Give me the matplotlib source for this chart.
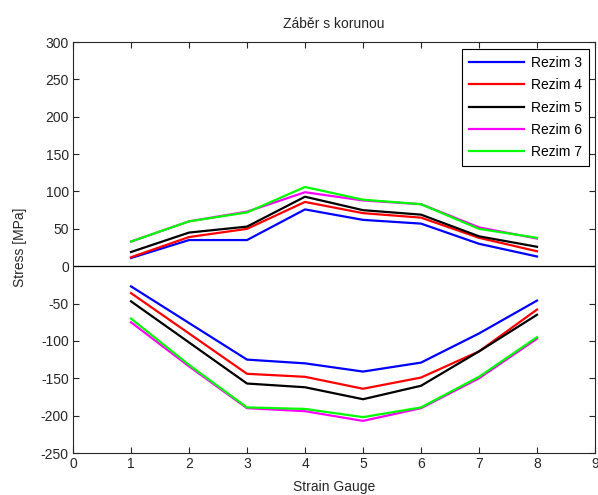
import matplotlib
matplotlib.use("Agg")
import matplotlib.pyplot as plt

# Strain gauge positions
gauges = [1, 2, 3, 4, 5, 6, 7, 8]

# Tensile (upper) stress per regime [MPa]
upper = {
    "Rezim 3": [11, 35, 35, 76, 62, 57, 30, 13],
    "Rezim 4": [12, 39, 50, 86, 71, 65, 38, 20],
    "Rezim 5": [19, 45, 53, 93, 75, 69, 40, 26],
    "Rezim 6": [33, 60, 73, 99, 88, 83, 52, 37],
    "Rezim 7": [33, 60, 72, 106, 89, 83, 50, 38],
}

# Compressive (lower) stress per regime [MPa]
lower = {
    "Rezim 3": [-27, -76, -125, -130, -141, -129, -90, -46],
    "Rezim 4": [-36, -90, -144, -148, -164, -149, -114, -58],
    "Rezim 5": [-47, -102, -157, -162, -178, -160, -114, -65],
    "Rezim 6": [-75, -134, -190, -194, -207, -190, -150, -97],
    "Rezim 7": [-70, -132, -189, -191, -202, -189, -148, -95],
}

colors = {
    "Rezim 3": "#0000ff",
    "Rezim 4": "#ff0000",
    "Rezim 5": "#000000",
    "Rezim 6": "#ff00ff",
    "Rezim 7": "#00ff00",
}

xticks = list(range(0, 10))
yticks = list(range(-250, 301, 50))

plt.rcParams["font.family"] = ["Liberation Sans", "DejaVu Sans"]
plt.rcParams["font.size"] = 10
plt.rcParams["axes.unicode_minus"] = False

fig = plt.figure(figsize=(5.98, 4.95), dpi=100)
ax = fig.add_axes([0.1221, 0.0848, 0.8729, 0.8303])

for name in upper:
    ax.plot(gauges, upper[name], color=colors[name], lw=1.6, label=name)
for name in lower:
    ax.plot(gauges, lower[name], color=colors[name], lw=1.6)

ax.axhline(0, color="black", lw=0.9)

ax.set_xlim(0, 9)
ax.set_ylim(-250, 300)
ax.set_xticks(xticks)
ax.set_yticks(yticks)
ax.tick_params(direction="in", top=True, right=True, length=4, width=0.8,
               colors="#262626", labelcolor="#262626", pad=3)
for s in ax.spines.values():
    s.set_linewidth(0.8)
    s.set_color("#262626")

ax.set_title("Záběr s korunou", fontsize=10, pad=10, color="#262626")
ax.set_xlabel("Strain Gauge", color="#262626", labelpad=6)
ax.set_ylabel("Stress [MPa]", color="#262626", labelpad=10)

leg = ax.legend(loc="upper right", bbox_to_anchor=(0.9885, 0.983),
                borderaxespad=0, fancybox=False, framealpha=1,
                edgecolor="black", fontsize=10, handlelength=4.0,
                handletextpad=0.5, labelspacing=0.6, borderpad=0.5)
leg.get_frame().set_linewidth(0.8)

fig.savefig("out.png", dpi=100)
